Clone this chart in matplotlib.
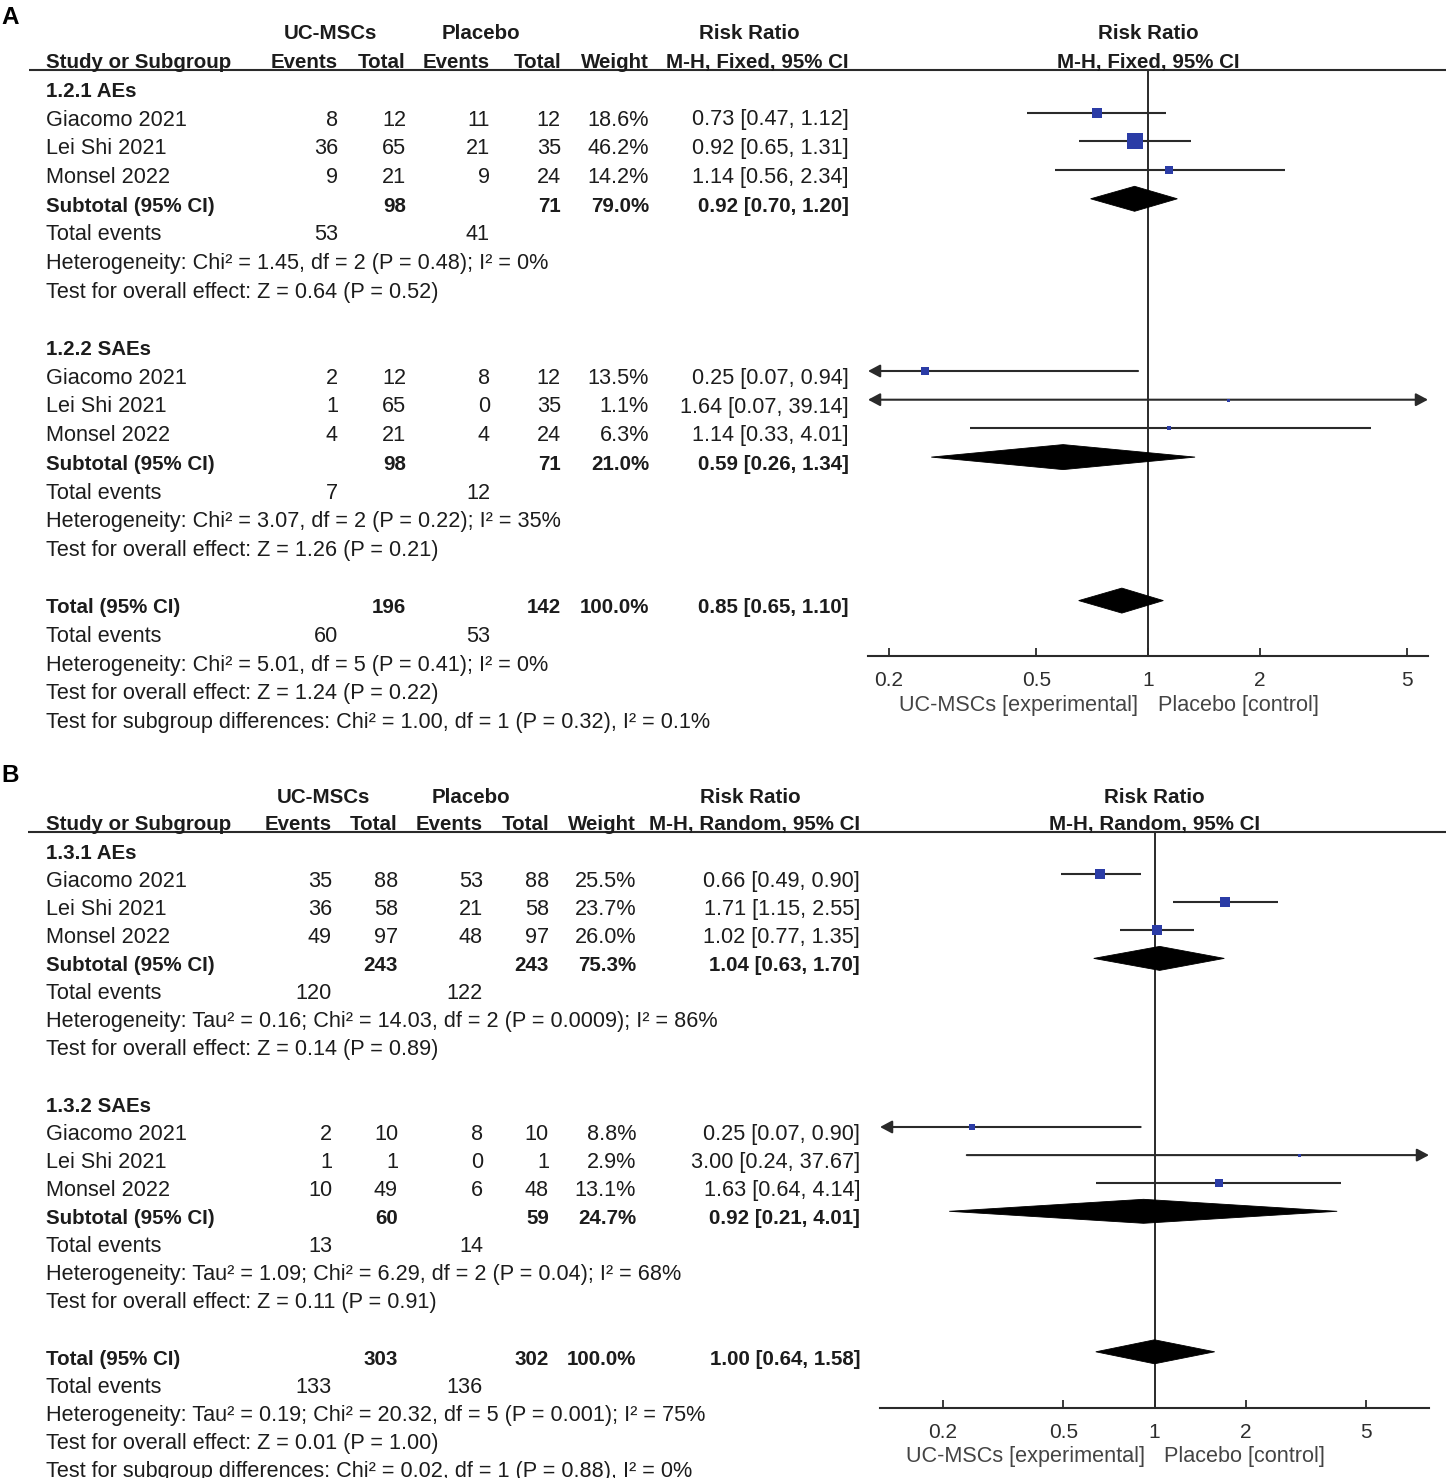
"""
Forest plots (RevMan style) for UC-MSCs vs placebo adverse events.
Panel A: M-H fixed effect, panel B: M-H random effects.
"""

import matplotlib
matplotlib.use("Agg")
import matplotlib.pyplot as plt
from matplotlib.patches import Polygon
from matplotlib.ticker import NullLocator

plt.rcParams["font.family"] = ["Liberation Sans", "DejaVu Sans"]

W, H, DPI = 1446, 1478, 100

# ── Colours / sizes ────────────────────────────────────────────────────────────
C_TEXT = "#1c1c1c"
C_LINE = "#2a2a2a"
C_AXIS_TXT = "#2e2e2e"
C_XLAB = "#444444"
C_SQ = "#2b3ca6"
FS = 15.6
FS_B = 14.8

# ── Data ───────────────────────────────────────────────────────────────────────
STUDIES = ["Giacomo 2021", "Lei Shi 2021", "Monsel 2022"]
TICKS = [0.2, 0.5, 1, 2, 5]
TICK_LABELS = ["0.2", "0.5", "1", "2", "5"]

# Panel A (fixed)
A_SUBGROUPS = ["1.2.1 AEs", "1.2.2 SAEs"]
A_EXP_EVENTS = [[8, 36, 9], [2, 1, 4]]
A_EXP_TOTAL = [[12, 65, 21], [12, 65, 21]]
A_CTL_EVENTS = [[11, 21, 9], [8, 0, 4]]
A_CTL_TOTAL = [[12, 35, 24], [12, 35, 24]]
A_WEIGHT = [[18.6, 46.2, 14.2], [13.5, 1.1, 6.3]]
A_RR = [[0.73, 0.92, 1.14], [0.25, 1.64, 1.14]]
A_LO = [[0.47, 0.65, 0.56], [0.07, 0.07, 0.33]]
A_HI = [[1.12, 1.31, 2.34], [0.94, 39.14, 4.01]]
A_SUB_WEIGHT = [79.0, 21.0]
A_SUB_RR = [0.92, 0.59]
A_SUB_LO = [0.70, 0.26]
A_SUB_HI = [1.20, 1.34]
A_SUB_HET = ["Heterogeneity: Chi² = 1.45, df = 2 (P = 0.48); I² = 0%",
             "Heterogeneity: Chi² = 3.07, df = 2 (P = 0.22); I² = 35%"]
A_SUB_TEST = ["Test for overall effect: Z = 0.64 (P = 0.52)",
              "Test for overall effect: Z = 1.26 (P = 0.21)"]
A_TOT = [0.85, 0.65, 1.10]
A_TOT_HET = "Heterogeneity: Chi² = 5.01, df = 5 (P = 0.41); I² = 0%"
A_TOT_TEST = "Test for overall effect: Z = 1.24 (P = 0.22)"
A_DIFF = "Test for subgroup differences: Chi² = 1.00, df = 1 (P = 0.32), I² = 0.1%"

# Panel B (random)
B_SUBGROUPS = ["1.3.1 AEs", "1.3.2 SAEs"]
B_EXP_EVENTS = [[35, 36, 49], [2, 1, 10]]
B_EXP_TOTAL = [[88, 58, 97], [10, 1, 49]]
B_CTL_EVENTS = [[53, 21, 48], [8, 0, 6]]
B_CTL_TOTAL = [[88, 58, 97], [10, 1, 48]]
B_WEIGHT = [[25.5, 23.7, 26.0], [8.8, 2.9, 13.1]]
B_RR = [[0.66, 1.71, 1.02], [0.25, 3.00, 1.63]]
B_LO = [[0.49, 1.15, 0.77], [0.07, 0.24, 0.64]]
B_HI = [[0.90, 2.55, 1.35], [0.90, 37.67, 4.14]]
B_SUB_WEIGHT = [75.3, 24.7]
B_SUB_RR = [1.04, 0.92]
B_SUB_LO = [0.63, 0.21]
B_SUB_HI = [1.70, 4.01]
B_SUB_HET = ["Heterogeneity: Tau² = 0.16; Chi² = 14.03, df = 2 (P = 0.0009); I² = 86%",
             "Heterogeneity: Tau² = 1.09; Chi² = 6.29, df = 2 (P = 0.04); I² = 68%"]
B_SUB_TEST = ["Test for overall effect: Z = 0.14 (P = 0.89)",
              "Test for overall effect: Z = 0.11 (P = 0.91)"]
B_TOT = [1.00, 0.64, 1.58]
B_TOT_HET = "Heterogeneity: Tau² = 0.19; Chi² = 20.32, df = 5 (P = 0.001); I² = 75%"
B_TOT_TEST = "Test for overall effect: Z = 0.01 (P = 1.00)"
B_DIFF = "Test for subgroup differences: Chi² = 0.02, df = 1 (P = 0.88), I² = 0%"


def _ci(fa, lo, hi, y, xmin, xmax):
    lc, hc = max(lo, xmin), min(hi, xmax)
    left, right = lo < xmin, hi > xmax
    if not (left or right):
        fa.plot([lc, hc], [y, y], color=C_LINE, lw=1.5, solid_capstyle="butt", zorder=2)
        return
    style = "<|-|>" if (left and right) else ("<|-" if left else "-|>")
    fa.annotate("", xy=(hc, y), xytext=(lc, y), annotation_clip=False,
                arrowprops=dict(arrowstyle=style + ",head_length=0.6,head_width=0.32",
                                color=C_LINE, lw=1.5, shrinkA=0, shrinkB=0,
                                mutation_scale=12), zorder=2)


def _diamond(fa, rr, lo, hi, y, h):
    fa.add_patch(Polygon([(lo, y), (rr, y - h / 2), (hi, y), (rr, y + h / 2)],
                         closed=True, facecolor="black", edgecolor="black",
                         lw=0.6, zorder=3))


def draw_panel(fig, bg, d, g):
    ry = lambda i: g["row0"] + g["step"] * i
    c = g["cols"]
    off = 7.8  # centre -> baseline

    def put(x, i, s, ha="right", bold=False):
        bg.text(x, ry(i) + off, s, ha=ha, va="baseline",
                fontsize=FS_B if bold else FS,
                fontweight="bold" if bold else "normal", color=C_TEXT)

    hb = dict(va="baseline", fontsize=FS_B, fontweight="bold", color=C_TEXT)
    y1, y2 = g["head1_y"] + off, g["head2_y"] + off

    bg.text(1, g["letter_y"], d["letter"], ha="left", va="center",
            fontsize=17.5, fontweight="bold", color="black")
    bg.text(g["hx_exp"], y1, "UC-MSCs", ha="center", **hb)
    bg.text(g["hx_ctl"], y1, "Placebo", ha="center", **hb)
    bg.text(g["hx_rr"], y1, "Risk Ratio", ha="center", **hb)
    bg.text(c["name"], y2, "Study or Subgroup", ha="left", **hb)
    for key, lab in [("e_ev", "Events"), ("e_tot", "Total"), ("c_ev", "Events"),
                     ("c_tot", "Total"), ("wt", "Weight"), ("rr", d["method"])]:
        bg.text(c[key], y2, lab, ha="right", **hb)
    bg.plot([g["line_x0"], W], [g["line_y"]] * 2, color=C_LINE, lw=1.5,
            solid_capstyle="butt")

    # forest axes, y in pixel rows
    x0, x1, ytop, ybot = g["ax_px"]
    fa = fig.add_axes([x0 / W, 1 - ybot / H, (x1 - x0) / W, (ybot - ytop) / H])
    fa.patch.set_alpha(0)
    fa.set_xscale("log")
    xmin, xmax = g["xlim"]
    fa.set_xlim(xmin, xmax)
    fa.set_ylim(ybot, ytop)
    for s in ("top", "left", "right"):
        fa.spines[s].set_visible(False)
    fa.spines["bottom"].set_color(C_LINE)
    fa.spines["bottom"].set_linewidth(1.5)
    fa.set_yticks([])
    fa.set_xticks(TICKS, TICK_LABELS)
    fa.xaxis.set_minor_locator(NullLocator())
    fa.tick_params(axis="x", direction="in", length=5.8, width=1.3, color=C_LINE,
                   pad=11, labelsize=15, labelcolor=C_AXIS_TXT)
    fa.axvline(1, color=C_LINE, lw=1.4, zorder=1)

    fa.text(1, y1, "Risk Ratio", ha="center", **hb)
    fa.text(1, y2, d["method"], ha="center", **hb)
    for txt, dx, ha in [("UC-MSCs [experimental]", -7, "right"),
                        ("Placebo [control]", 7, "left")]:
        fa.annotate(txt, xy=(1, g["xlab_y"]), xytext=(dx, 0),
                    textcoords="offset points", ha=ha, va="center",
                    fontsize=FS, color=C_XLAB, annotation_clip=False)

    k, cc = g["sq"]
    for s in range(2):
        b = 9 * s
        put(c["name"], b, d["subgroups"][s], ha="left", bold=True)
        for j, name in enumerate(STUDIES):
            i = b + 1 + j
            put(c["name"], i, name, ha="left")
            put(c["e_ev"], i, str(d["e_ev"][s][j]))
            put(c["e_tot"], i, str(d["e_tot"][s][j]))
            put(c["c_ev"], i, str(d["c_ev"][s][j]))
            put(c["c_tot"], i, str(d["c_tot"][s][j]))
            put(c["wt"], i, f"{d['wt'][s][j]:.1f}%")
            rr, lo, hi = d["rr"][s][j], d["lo"][s][j], d["hi"][s][j]
            put(c["rr"], i, f"{rr:.2f} [{lo:.2f}, {hi:.2f}]")
            ym = ry(i) - 5
            _ci(fa, lo, hi, ym, xmin, xmax)
            side = max(3.0, k * d["wt"][s][j] ** 0.5 - cc)
            fa.plot([rr], [ym], marker="s", ms=side * 72 / DPI, color=C_SQ,
                    mec=C_SQ, mew=0, ls="none", zorder=4)
        i = b + 4
        put(c["name"], i, "Subtotal (95% CI)", ha="left", bold=True)
        put(c["e_tot"], i, str(sum(d["e_tot"][s])), bold=True)
        put(c["c_tot"], i, str(sum(d["c_tot"][s])), bold=True)
        put(c["wt"], i, f"{d['sub_wt'][s]:.1f}%", bold=True)
        put(c["rr"], i, f"{d['sub_rr'][s]:.2f} [{d['sub_lo'][s]:.2f}, {d['sub_hi'][s]:.2f}]",
            bold=True)
        _diamond(fa, d["sub_rr"][s], d["sub_lo"][s], d["sub_hi"][s], ry(i) - 5, g["dia_h"])
        put(c["name"], b + 5, "Total events", ha="left")
        put(c["e_ev"], b + 5, str(sum(d["e_ev"][s])))
        put(c["c_ev"], b + 5, str(sum(d["c_ev"][s])))
        put(c["name"], b + 6, d["sub_het"][s], ha="left")
        put(c["name"], b + 7, d["sub_test"][s], ha="left")

    rr, lo, hi = d["tot"]
    put(c["name"], 18, "Total (95% CI)", ha="left", bold=True)
    put(c["e_tot"], 18, str(sum(map(sum, d["e_tot"]))), bold=True)
    put(c["c_tot"], 18, str(sum(map(sum, d["c_tot"]))), bold=True)
    put(c["wt"], 18, "100.0%", bold=True)
    put(c["rr"], 18, f"{rr:.2f} [{lo:.2f}, {hi:.2f}]", bold=True)
    _diamond(fa, rr, lo, hi, ry(18) - 5, g["dia_h"])
    put(c["name"], 19, "Total events", ha="left")
    put(c["e_ev"], 19, str(sum(map(sum, d["e_ev"]))))
    put(c["c_ev"], 19, str(sum(map(sum, d["c_ev"]))))
    put(c["name"], 20, d["tot_het"], ha="left")
    put(c["name"], 21, d["tot_test"], ha="left")
    put(c["name"], 22, d["diff"], ha="left")


fig = plt.figure(figsize=(W / DPI, H / DPI), dpi=DPI)
bg = fig.add_axes([0, 0, 1, 1])
bg.set_xlim(0, W)
bg.set_ylim(H, 0)
bg.axis("off")

data_a = dict(letter="A", method="M-H, Fixed, 95% CI", subgroups=A_SUBGROUPS,
              e_ev=A_EXP_EVENTS, e_tot=A_EXP_TOTAL, c_ev=A_CTL_EVENTS, c_tot=A_CTL_TOTAL,
              wt=A_WEIGHT, rr=A_RR, lo=A_LO, hi=A_HI, sub_wt=A_SUB_WEIGHT,
              sub_rr=A_SUB_RR, sub_lo=A_SUB_LO, sub_hi=A_SUB_HI, sub_het=A_SUB_HET,
              sub_test=A_SUB_TEST, tot=A_TOT, tot_het=A_TOT_HET, tot_test=A_TOT_TEST,
              diff=A_DIFF)
geom_a = dict(letter_y=17, head1_y=31, head2_y=60, line_y=69.5, line_x0=29,
              row0=89, step=28.7,
              cols=dict(name=46, e_ev=338, e_tot=406, c_ev=490, c_tot=561, wt=649, rr=849),
              hx_exp=330, hx_ctl=481, hx_rr=749,
              ax_px=(868, 1428, 69.5, 656), xlim=(1 / 5.70, 5.70), xlab_y=706,
              sq=(2.82, 2.46), dia_h=25)

data_b = dict(letter="B", method="M-H, Random, 95% CI", subgroups=B_SUBGROUPS,
              e_ev=B_EXP_EVENTS, e_tot=B_EXP_TOTAL, c_ev=B_CTL_EVENTS, c_tot=B_CTL_TOTAL,
              wt=B_WEIGHT, rr=B_RR, lo=B_LO, hi=B_HI, sub_wt=B_SUB_WEIGHT,
              sub_rr=B_SUB_RR, sub_lo=B_SUB_LO, sub_hi=B_SUB_HI, sub_het=B_SUB_HET,
              sub_test=B_SUB_TEST, tot=B_TOT, tot_het=B_TOT_HET, tot_test=B_TOT_TEST,
              diff=B_DIFF)
geom_b = dict(letter_y=776, head1_y=795, head2_y=822, line_y=832, line_x0=28,
              row0=851, step=28.1,
              cols=dict(name=46, e_ev=332, e_tot=398, c_ev=483, c_tot=549, wt=636, rr=860),
              hx_exp=323, hx_ctl=471, hx_rr=750,
              ax_px=(880, 1429, 832, 1408), xlim=(1 / 8.06, 8.06), xlab_y=1456,
              sq=(2.45, 1.66), dia_h=24)

draw_panel(fig, bg, data_a, geom_a)
draw_panel(fig, bg, data_b, geom_b)

fig.savefig("out.png", dpi=DPI, facecolor="white")
plt.close(fig)
